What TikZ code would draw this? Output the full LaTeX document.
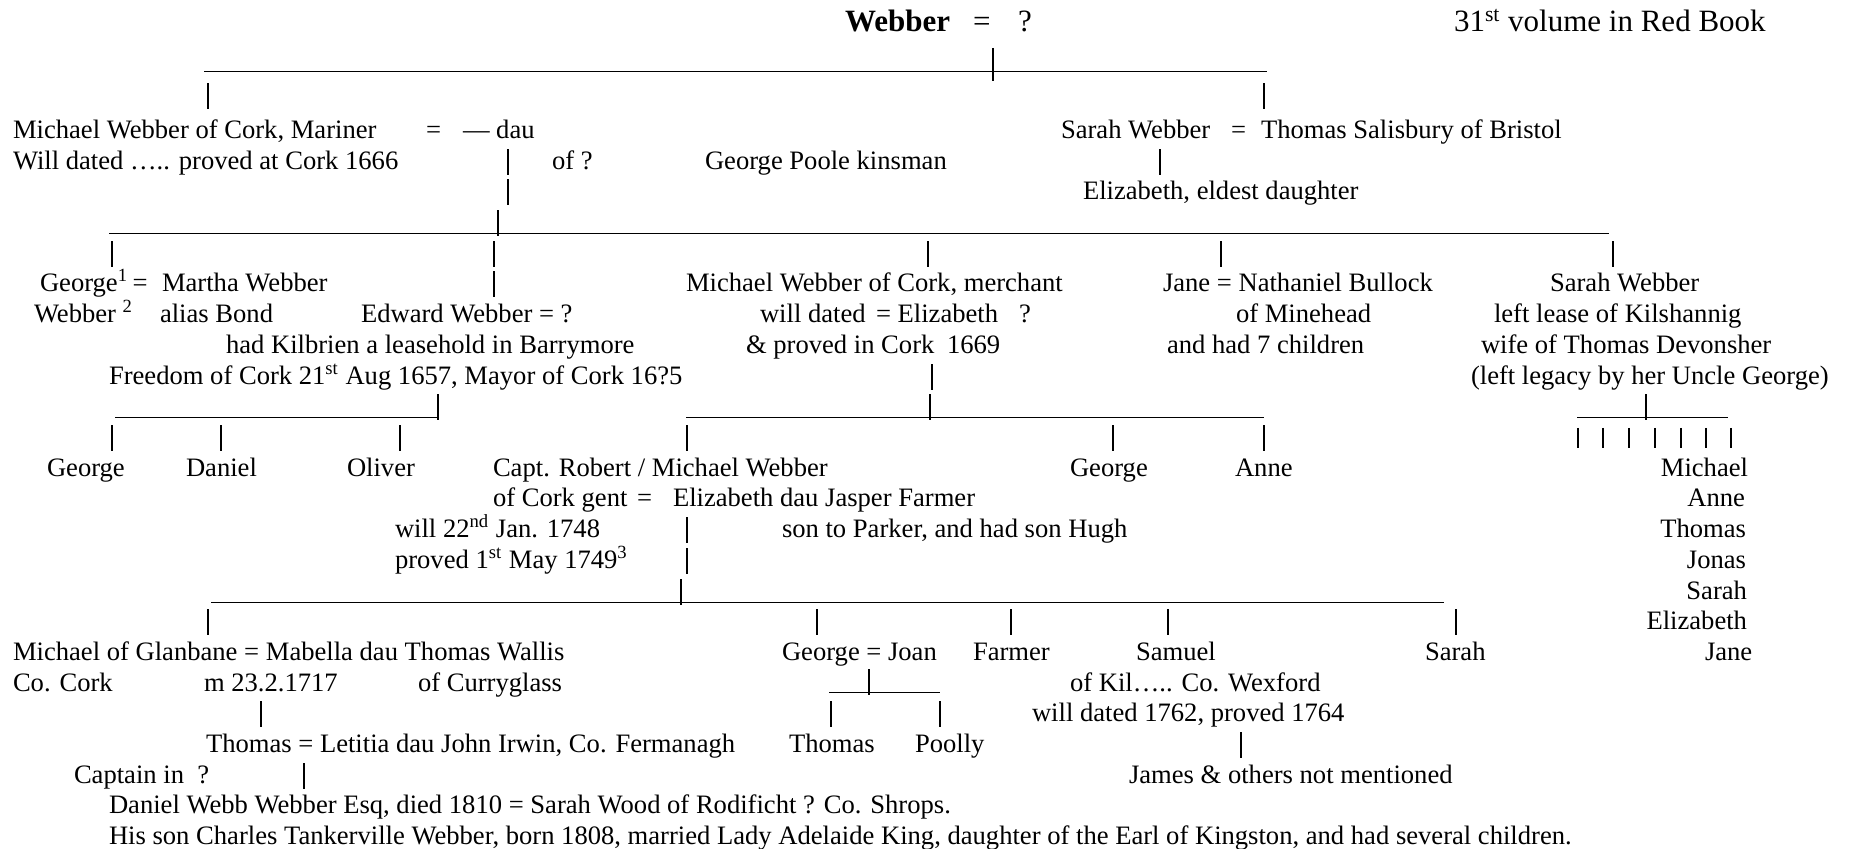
\documentclass[tikz,border=0pt]{standalone}
\usepackage{fontspec}
\setmainfont{Liberation Serif}
\newcommand\gpipe[2]{\draw[rule] (#1,#2-20.5) -- (#1,#2+5.5);}
\newcommand\gspipe[2]{\draw[rule] (#1,#2-18) -- (#1,#2+2);}
\newcommand\guline[3]{\draw[rule] (#1,#3+2.5) -- (#2,#3+2.5);}
\begin{document}
\begin{tikzpicture}[x=0.5pt,y=-0.5pt,
  txt/.style={anchor=base west,inner sep=0pt,outer sep=0pt,font=\fontsize{13.3}{16}\selectfont},
  txtr/.style={txt,anchor=base east},
  big/.style={txt,font=\fontsize{15.5}{18}\selectfont},
  rule/.style={line width=0.65pt,black}]
\useasboundingbox (0,0) rectangle (1849,849);
\fill[white] (0,0) rectangle (1849,849);
% row 0
\node[big] (w0) at (845,32) {\textbf{Webber}};
\node[big] (eq0) at (973,32) {=};
\node[big] (q0) at (1018,32) {?};
\node[big] (red) at (1454,32) {31\textsuperscript{st} volume in Red Book};
% row 1-2
\draw[rule] (204,71.5) -- (1267,71.5);
\draw[rule] (993,48) -- (993,81);
\gpipe{208}{104}
\gpipe{1264}{104}
% row 3
\node[txt] (mw) at (13,139) {Michael Webber of Cork, Mariner};
\node[txt] (eq1) at (426,139) {=};
\node[txt] (dau) at (463,139) {— dau};
\node[txt] (sw) at (1061,139) {Sarah Webber};
\node[txt] (eq2) at (1231,139) {=};
\node[txt] (ts) at (1261,139) {Thomas Salisbury of Bristol};
% row 4
\node[txt] (will1) at (13,170) {Will dated ….. proved at Cork 1666};
\gpipe{508}{170}
\node[txt] (ofq) at (552,170) {of ?};
\node[txt] (gp) at (705,170) {George Poole kinsman};
\gpipe{1160}{170}
% row 5
\gpipe{508}{200}
\node[txt] (eliz1) at (1083,200) {Elizabeth, eldest daughter};
% row 6-7
\guline{109}{1609}{231}
\gpipe{498}{231}
\foreach \x in {112,494,928,1221,1613} {\gpipe{\x}{262}}
% row 8
\node[txt] (geo1) at (40,292) {George\textsuperscript{1}\,=};
\node[txt] (mar) at (162,292) {Martha Webber};
\gpipe{494}{292}
\node[txt] (mwm) at (686,292) {Michael Webber of Cork, merchant};
\node[txt] (jane1) at (1163,292) {Jane = Nathaniel Bullock};
\node[txt] (sw2) at (1550,292) {Sarah Webber};
% row 9
\node[txt] (web2) at (34,323) {Webber \textsuperscript{2}};
\node[txt] (alias) at (160,323) {alias Bond};
\node[txt] (ed) at (361,323) {Edward Webber = ?};
\node[txt] (wd) at (760,323) {will dated};
\node[txt] (eel) at (876,323) {= Elizabeth};
\node[txt] (q2) at (1019,323) {?};
\node[txt] (mine) at (1236,323) {of Minehead};
\node[txt] (lease) at (1494,323) {left lease of Kilshannig};
% row 10
\node[txt] (kil) at (226,354) {had Kilbrien a leasehold in Barrymore};
\node[txt] (prov) at (746,354) {\& proved in Cork};
\node[txt] (y1669) at (947,354) {1669};
\node[txt] (seven) at (1167,354) {and had 7 children};
\node[txt] (wife) at (1481,354) {wife of Thomas Devonsher};
% row 11
\node[txt] (free) at (109,385) {Freedom of Cork 21\textsuperscript{st} Aug 1657, Mayor of Cork 16?5};
\gpipe{932}{385}
\node[txt] (leg) at (1471,385) {(left legacy by her Uncle George)};
% row 12-13
\guline{115}{437}{415}
\gpipe{438}{415}
\guline{686}{1264}{415}
\gpipe{930}{415}
\guline{1577}{1728}{415}
\gpipe{1646}{415}
\foreach \x in {112,221,400,687,1113,1264} {\gpipe{\x}{446}}
\foreach \x in {1578,1603,1629,1655,1681,1706,1731} {\gspipe{\x}{446}}
% row 14
\node[txt] (g2) at (47,477) {George};
\node[txt] (dan) at (186,477) {Daniel};
\node[txt] (oli) at (347,477) {Oliver};
\node[txt] (capt) at (493,477) {Capt. Robert / Michael Webber};
\node[txt] (g3) at (1070,477) {George};
\node[txt] (anne1) at (1235,477) {Anne};
\node[txtr] (c1) at (1748,477) {Michael};
% row 15
\node[txt] (gent) at (493,507) {of Cork gent};
\node[txt] (eq3) at (637,507) {=};
\node[txt] (ejf) at (673,507) {Elizabeth dau Jasper Farmer};
\node[txtr] (c2) at (1745,507) {Anne};
% row 16
\node[txt] (w22) at (395,538) {will 22\textsuperscript{nd} Jan. 1748};
\gpipe{687}{538}
\node[txt] (park) at (782,538) {son to Parker, and had son Hugh};
\node[txtr] (c3) at (1746,538) {Thomas};
% row 17
\node[txt] (pr1) at (395,569) {proved 1\textsuperscript{st} May 1749\textsuperscript{3}};
\gpipe{687}{569}
\node[txtr] (c4) at (1746,569) {Jonas};
% row 18-19
\guline{211}{1444}{600}
\gpipe{681}{600}
\node[txtr] (c5) at (1747,600) {Sarah};
\foreach \x in {208,817,1011,1168,1456} {\gpipe{\x}{630}}
\node[txtr] (c6) at (1747,630) {Elizabeth};
% row 20
\node[txt] (glan) at (13,661) {Michael of Glanbane = Mabella dau Thomas Wallis};
\node[txt] (gj) at (782,661) {George = Joan};
\node[txt] (farm) at (973,661) {Farmer};
\node[txt] (sam) at (1136,661) {Samuel};
\node[txt] (sar) at (1425,661) {Sarah};
\node[txt] (jane2) at (1705,661) {Jane};
% row 21
\node[txt] (cc) at (13,692) {Co. Cork};
\node[txt] (m23) at (204,692) {m 23.2.1717};
\node[txt] (cur) at (418,692) {of Curryglass};
\guline{829}{940}{690}
\gpipe{869}{690}
\node[txt] (wex) at (1070,692) {of Kil….. Co. Wexford};
% row 22
\gpipe{261}{722}
\gpipe{831}{722}
\gpipe{940}{722}
\node[txt] (w62) at (1032,722) {will dated 1762, proved 1764};
% row 23
\node[txt] (tl) at (206,753) {Thomas = Letitia dau John Irwin, Co. Fermanagh};
\node[txt] (th) at (789,753) {Thomas};
\node[txt] (pool) at (915,753) {Poolly};
\gpipe{1241}{753}
% row 24
\node[txt] (capin) at (74,784) {Captain in\ \ ?};
\gpipe{304}{784}
\node[txt] (james) at (1129,784) {James \& others not mentioned};
% row 25-26
\node[txt] (dww) at (109,814) {Daniel Webb Webber Esq, died 1810 = Sarah Wood of Rodificht ? Co. Shrops.};
\node[txt] (ctw) at (109,845) {His son Charles Tankerville Webber, born 1808, married Lady Adelaide King, daughter of the Earl of Kingston, and had several children.};
\end{tikzpicture}
\end{document}
